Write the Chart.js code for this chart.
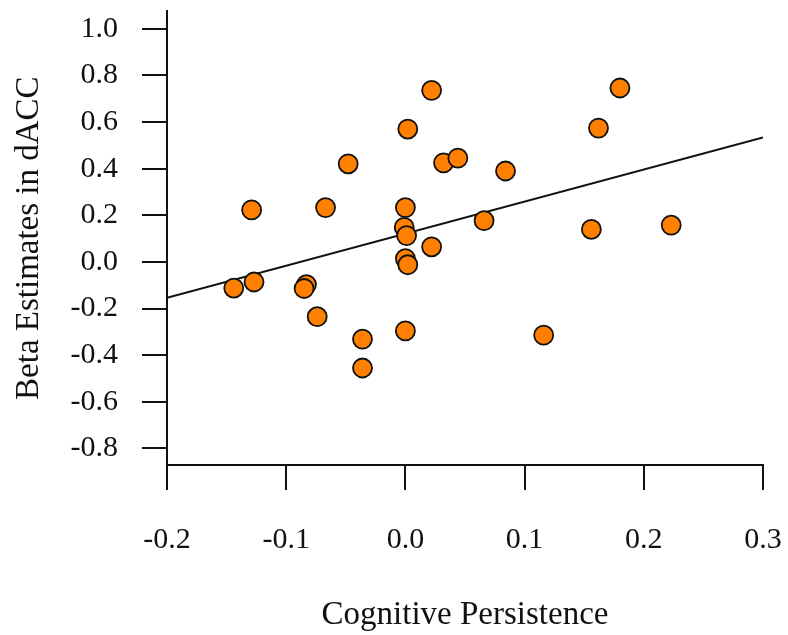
<!DOCTYPE html>
<html>
<head>
<meta charset="utf-8">
<script src="https://cdn.jsdelivr.net/npm/chart.js@4/dist/chart.umd.min.js"></script>
<style>
  html, body { margin: 0; padding: 0; background: #fff; }
  canvas { display: block; }
</style>
</head>
<body>
<canvas id="chart" width="788" height="635"></canvas>
<script>
// Cognitive Persistence (x) vs Beta Estimates in dACC (y)
const persistence = [
  -0.144, -0.127, -0.129, -0.083, -0.085, -0.074, -0.067, -0.048, -0.036, -0.036,
  0.000, -0.001, 0.001, 0.000, 0.002, 0.000, 0.002, 0.022, 0.022, 0.032,
  0.044, 0.066, 0.084, 0.116, 0.156, 0.162, 0.180, 0.223
];
const betaDacc = [
  -0.112, -0.086, 0.223, -0.097, -0.114, -0.235, 0.233, 0.421, -0.331, -0.455,
  0.233, 0.148, 0.113, 0.014, -0.012, -0.296, 0.570, 0.736, 0.065, 0.425,
  0.445, 0.177, 0.390, -0.314, 0.140, 0.574, 0.746, 0.158
];

// fitted line, read at both ends of the x axis
const fitX = [-0.2, 0.3];
const fitY = [-0.154, 0.534];

const xTicks = [-0.2, -0.1, 0.0, 0.1, 0.2, 0.3];
const yTicks = [-0.8, -0.6, -0.4, -0.2, 0.0, 0.2, 0.4, 0.6, 0.8, 1.0];

const serif = "'Liberation Serif', 'Times New Roman', serif";
const ink = "#111";

const points = persistence.map((x, i) => ({ x: x, y: betaDacc[i] }));
const fitLine = fitX.map((x, i) => ({ x: x, y: fitY[i] }));

new Chart(document.getElementById("chart"), {
  type: "scatter",
  data: {
    datasets: [
      {
        data: points,
        backgroundColor: "#ff8000",
        borderColor: "#111",
        borderWidth: 1.8,
        pointRadius: 9.5,
        pointHoverRadius: 9.5,
      },
      {
        data: fitLine,
        showLine: true,
        borderColor: "#111",
        borderWidth: 2,
        pointRadius: 0,
        fill: false,
      },
    ],
  },
  options: {
    responsive: false,
    animation: false,
    layout: { padding: { top: 8, right: 25, left: 0, bottom: 0 } },
    plugins: { legend: { display: false }, tooltip: { enabled: false } },
    scales: {
      x: {
        type: "linear",
        min: -0.2,
        max: 0.3,
        afterBuildTicks: (scale) => {
          scale.ticks = xTicks.map((v) => ({ value: v }));
        },
        afterFit: (scale) => {
          scale.height = 170;
          scale.paddingLeft = 0;
          scale.paddingRight = 0;
        },
        border: { display: true, color: ink, width: 2 },
        grid: {
          drawOnChartArea: false,
          drawTicks: true,
          tickLength: 25,
          color: ink,
          lineWidth: 2,
        },
        ticks: {
          color: ink,
          padding: 32,
          maxRotation: 0,
          font: { family: serif, size: 30 },
          callback: (v) => Number(v).toFixed(1),
        },
        title: {
          display: true,
          text: "Cognitive Persistence",
          color: ink,
          font: { family: serif, size: 33 },
          padding: { bottom: 0 },
        },
      },
      y: {
        type: "linear",
        min: -0.871,
        max: 1.075,
        afterBuildTicks: (scale) => {
          scale.ticks = yTicks.map((v) => ({ value: v }));
        },
        afterFit: (scale) => {
          scale.width = 167;
          scale.paddingTop = 0;
          scale.paddingBottom = 0;
        },
        border: { display: true, color: ink, width: 2 },
        grid: {
          drawOnChartArea: false,
          drawTicks: true,
          tickLength: 25,
          color: ink,
          lineWidth: 2,
        },
        ticks: {
          color: ink,
          padding: 24,
          font: { family: serif, size: 30 },
          callback: (v) => Number(v).toFixed(1),
        },
        title: {
          display: true,
          text: "Beta Estimates in dACC",
          color: ink,
          font: { family: serif, size: 33 },
          padding: { top: 10 },
        },
      },
    },
  },
});
</script>
</body>
</html>
